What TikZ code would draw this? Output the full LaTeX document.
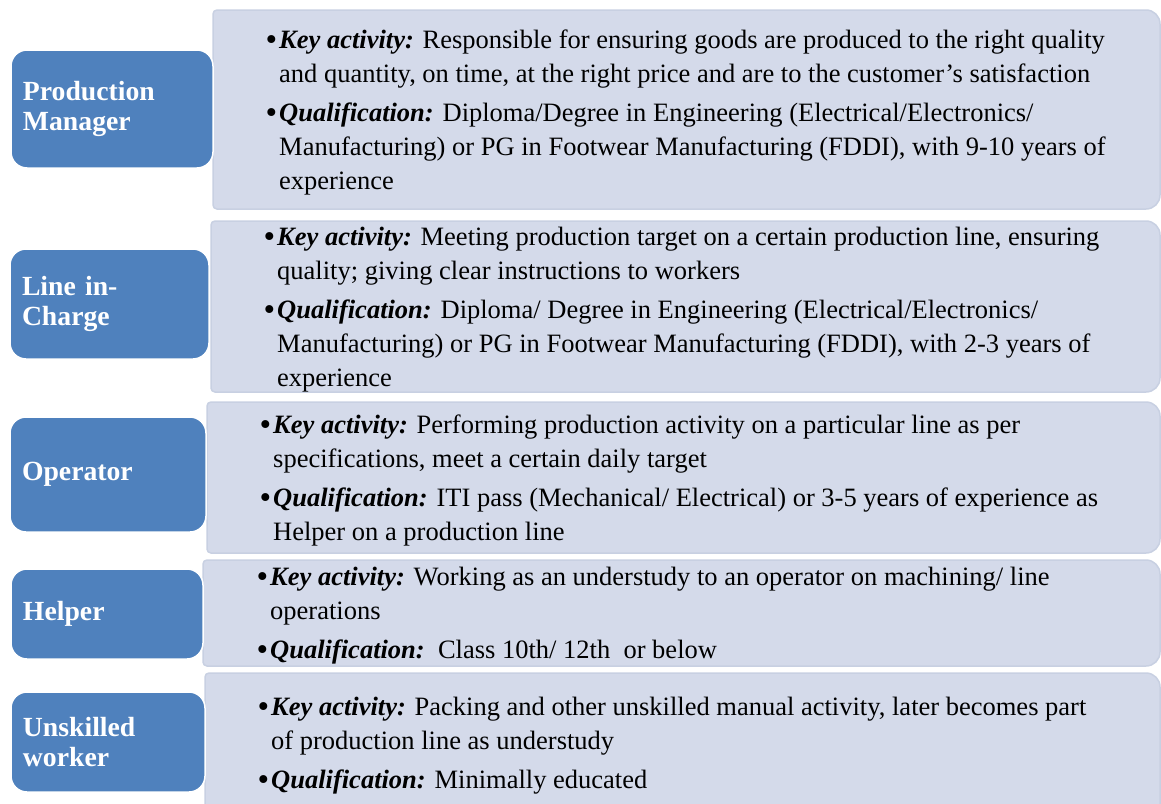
\documentclass[tikz,border=0pt]{standalone}
\usepackage{fontspec}
\setmainfont{Liberation Serif}
\usepackage{xcolor}
\usepackage{graphicx}
\usepackage{tikz}
\usetikzlibrary{positioning}

\definecolor{roleblue}{HTML}{4F81BD}
\definecolor{panelfill}{HTML}{D4DAEA}
\definecolor{panelrim}{HTML}{C8D0E2}

\newcommand\rolefont{\fontsize{27.7}{30}\selectfont\bfseries}
\newcommand\dutyfont{\fontsize{26.5}{34}\selectfont}
% bullet hanging left of the first word, bold italic heading
\newcommand\bitem[1]{\strut\llap{\raisebox{-2.5pt}{\scalebox{1.25}{\textbullet}}\hspace{2pt}}\textbf{\textit{#1}}}

\tikzset{
    rolebox/.style = {rectangle, rounded corners=16pt, draw=white, line width=1.5pt, fill=roleblue,
                      text=white, font=\rolefont, align=left, inner xsep=12pt, inner ysep=0pt},
    dutytext/.style = {anchor=north west, align=left, inner sep=0pt, font=\dutyfont},
    panel/.style = {fill=panelfill, draw=panelrim, line width=1.5pt, rounded corners=4pt}
}

\begin{document}
\begin{tikzpicture}[x=1pt, y=-1pt]
\clip (0,0) rectangle (1161,803);
\fill[white] (0,0) rectangle (1161,803);
%
% light panels, wider rounding on the right
\draw[panel] (213,110) -- (213,10) [rounded corners=14pt] -- (1160,10) -- (1160,209) [rounded corners=4pt] -- (213,209) -- cycle;
\draw[panel] (211,300) -- (211,221) [rounded corners=14pt] -- (1160,221) -- (1160,392) [rounded corners=4pt] -- (211,392) -- cycle;
\draw[panel] (207,480) -- (207,402) [rounded corners=14pt] -- (1160,402) -- (1160,553) [rounded corners=4pt] -- (207,553) -- cycle;
\draw[panel] (203,610) -- (203,560) [rounded corners=14pt] -- (1160,560) -- (1160,666) [rounded corners=4pt] -- (203,666) -- cycle;
\draw[panel] (205,740) -- (205,673) [rounded corners=14pt] -- (1160,673) -- (1160,830) [rounded corners=4pt] -- (205,830) -- cycle;
%
% roles
\node[rolebox, minimum height=118pt, text width=178pt] at (112,109) (pm) {Production\\Manager};
\node[rolebox, minimum height=110pt, text width=175pt] at (109.5,304) (lic) {Line in-\\Charge};
\node[rolebox, minimum height=115pt, text width=172pt] at (108,474.5) (op) {Operator};
\node[rolebox, minimum height=90pt, text width=168pt] at (107,614) (hlp) {Helper};
\node[rolebox, minimum height=100pt, text width=170pt] at (108,742) (uw) {Unskilled\\worker};
%
% duties
\node[dutytext] at (279,24) (pm-txt) {%
\bitem{Key activity:} Responsible for ensuring goods are produced to the right quality\\
and quantity, on time, at the right price and are to the customer's satisfaction\\[5pt]
\bitem{Qualification:} Diploma/Degree in Engineering (Electrical/Electronics/\\
Manufacturing) or PG in Footwear Manufacturing (FDDI), with 9-10 years of\\
experience};
\node[dutytext] at (277,221) (lic-txt) {%
\bitem{Key activity:} Meeting production target on a certain production line, ensuring\\
quality; giving clear instructions to workers\\[5pt]
\bitem{Qualification:} Diploma/ Degree in Engineering (Electrical/Electronics/\\
Manufacturing) or PG in Footwear Manufacturing (FDDI), with 2-3 years of\\
experience};
\node[dutytext] at (273,409.2) (op-txt) {%
\bitem{Key activity:} Performing production activity on a particular line as per\\
specifications, meet a certain daily target\\[5pt]
\bitem{Qualification:} ITI pass (Mechanical/ Electrical) or 3-5 years of experience as\\
Helper on a production line};
\node[dutytext] at (270,561.2) (hlp-txt) {%
\bitem{Key activity:} Working as an understudy to an operator on machining/ line\\
operations\\[5pt]
\bitem{Qualification:}\ \ Class 10th/ 12th\ \ or below};
\node[dutytext] at (271,691.2) (uw-txt) {%
\bitem{Key activity:} Packing and other unskilled manual activity, later becomes part\\
of production line as understudy\\[5pt]
\bitem{Qualification:} Minimally educated};
\end{tikzpicture}
\end{document}
